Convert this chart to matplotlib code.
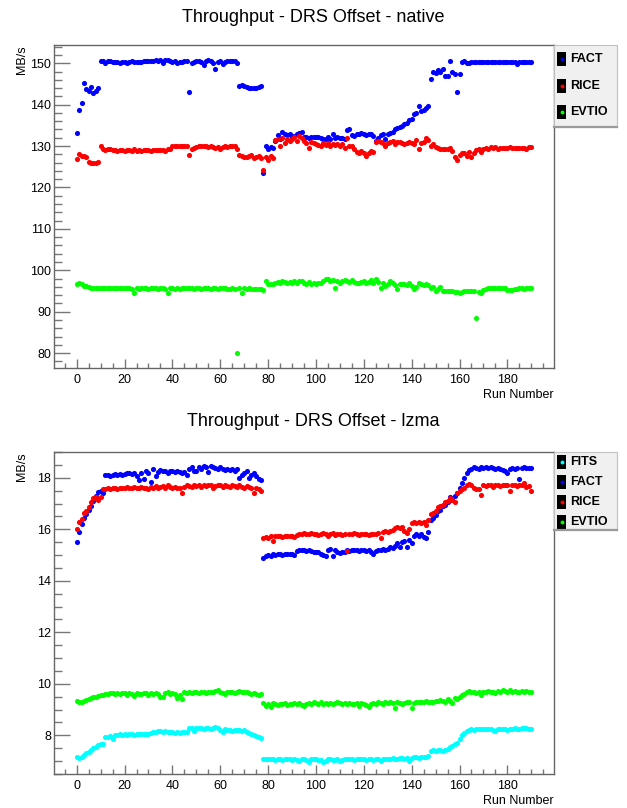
import matplotlib
matplotlib.use("Agg")
import matplotlib.pyplot as plt
from matplotlib.patches import Rectangle
from matplotlib.lines import Line2D
from matplotlib.ticker import MultipleLocator
import numpy as np

plt.rcParams['font.family'] = ['Liberation Sans', 'DejaVu Sans']

runs = np.arange(191)

# ---- native compression ----
nat_fact = [
    133.2, 138.7, 140.5, 145.2, 143.8, 143.2, 144.2, 142.8, 143.3, 143.9,
    150.6, 150.6, 150.0, 150.6, 150.5, 150.3, 150.4, 150.2, 150.0, 150.4,
    150.3, 150.1, 150.4, 150.5, 150.2, 150.4, 150.3, 150.4, 150.5, 150.5,
    150.6, 150.6, 150.6, 150.7, 150.5, 150.7, 150.1, 150.8, 150.7, 150.6,
    150.4, 150.5, 150.0, 150.3, 150.4, 150.6, 150.5, 143.1, 150.0, 150.4,
    150.6, 150.5, 150.3, 149.5, 150.5, 150.7, 150.6, 150.0, 148.5, 150.3,
    150.6, 149.9, 150.4, 150.6, 150.5, 150.6, 150.6, 150.1, 144.5, 144.8,
    144.5, 144.3, 144.1, 144.1, 144.1, 144.1, 144.2, 144.6, 123.5, 130.0,
    129.3, 129.8, 129.6, 131.3, 132.6, 131.8, 133.3, 132.8, 132.7, 132.8,
    132.1, 132.5, 132.9, 133.2, 133.3, 132.2, 132.3, 132.0, 132.2, 132.3,
    132.2, 132.3, 132.0, 131.8, 131.6, 132.1, 131.8, 132.9, 132.0, 132.3,
    132.0, 131.9, 131.8, 133.8, 134.0, 132.6, 132.5, 133.0, 132.8, 133.2,
    132.9, 132.7, 133.0, 132.8, 132.5, 131.3, 132.0, 132.6, 132.8, 131.8,
    133.0, 133.1, 133.3, 134.2, 134.4, 134.6, 134.8, 135.4, 135.6, 136.2,
    136.5, 137.8, 137.9, 139.6, 138.5, 138.7, 139.3, 139.7, 146.3, 148.0,
    147.6, 148.3, 147.8, 148.6, 147.0, 146.9, 150.6, 148.0, 147.5, 143.1,
    147.5, 150.3, 150.5, 150.0, 150.1, 150.2, 150.3, 150.2, 150.2, 150.3,
    150.2, 150.3, 150.2, 150.2, 150.3, 150.3, 150.2, 150.3, 150.4, 150.3,
    150.4, 150.2, 150.3, 150.4, 149.7, 150.2, 150.3, 150.2, 150.2, 150.3,
    150.4]

nat_rice = [
    126.8, 128.0, 127.6, 127.7, 127.3, 126.2, 125.9, 125.8, 125.8, 126.1,
    129.9, 129.3, 129.1, 129.2, 129.2, 129.1, 129.0, 128.9, 129.1, 129.0,
    128.8, 129.1, 129.0, 128.7, 129.2, 128.9, 129.0, 128.8, 129.0, 129.1,
    129.0, 128.9, 129.0, 129.1, 129.0, 129.0, 129.1, 128.8, 129.3, 129.2,
    130.0, 130.1, 130.0, 130.0, 130.0, 130.1, 129.9, 127.8, 129.4, 129.6,
    129.8, 130.0, 130.0, 130.0, 129.9, 129.8, 129.9, 129.7, 129.5, 129.8,
    129.4, 129.7, 129.9, 129.8, 129.9, 130.0, 129.9, 129.3, 127.9, 127.6,
    127.4, 127.3, 127.5, 127.8, 127.2, 127.4, 127.6, 127.1, 124.3, 127.4,
    126.6, 127.7, 127.2, 131.5, 131.6, 130.0, 132.0, 130.7, 131.6, 131.2,
    131.7, 132.2, 131.3, 132.4, 132.0, 131.2, 130.7, 129.5, 131.0, 130.7,
    130.5, 130.2, 130.0, 130.7, 130.2, 130.7, 130.0, 130.6, 130.3, 130.4,
    129.9, 130.6, 129.5, 131.9, 130.1, 130.0, 129.3, 128.6, 128.3, 128.8,
    128.2, 127.7, 128.3, 128.9, 128.6, 131.0, 131.1, 130.9, 130.8, 130.0,
    130.7, 131.0, 131.1, 130.6, 130.9, 131.0, 130.8, 130.4, 130.7, 131.0,
    130.7, 130.6, 131.5, 129.4, 130.8, 131.0, 131.9, 131.4, 130.1, 130.5,
    129.8, 129.6, 129.4, 129.3, 129.2, 129.4, 129.5, 128.9, 127.3, 126.7,
    127.8, 128.2, 128.4, 127.5, 128.6, 127.3, 128.2, 129.0, 129.2, 128.6,
    129.3, 129.5, 129.4, 129.7, 129.6, 129.8, 129.3, 129.5, 129.6, 129.6,
    129.6, 129.7, 129.6, 129.5, 129.6, 129.6, 129.5, 129.6, 129.4, 129.7,
    129.8]

nat_evtio = [
    96.8, 97.0, 96.6, 96.3, 96.1, 95.9, 95.8, 95.8, 95.7, 95.8,
    95.8, 95.8, 95.7, 95.8, 95.8, 95.7, 95.7, 95.8, 95.7, 95.7,
    95.7, 95.7, 95.6, 95.4, 94.5, 95.6, 95.4, 95.6, 95.6, 95.6,
    95.5, 95.6, 95.6, 95.6, 95.4, 95.6, 95.6, 95.5, 94.5, 95.6,
    95.6, 95.4, 95.6, 95.5, 95.6, 95.6, 95.6, 95.6, 95.6, 95.5,
    95.6, 95.6, 95.5, 95.6, 95.6, 95.6, 95.5, 95.6, 95.6, 95.5,
    95.6, 95.6, 95.6, 95.5, 95.4, 95.6, 95.5, 80.0, 95.6, 94.4,
    95.6, 95.5, 95.6, 95.5, 95.5, 95.5, 95.4, 95.4, 95.2, 97.3,
    96.6, 96.7, 96.6, 97.0, 97.2, 96.9, 97.4, 97.2, 96.9, 97.1,
    97.0, 97.3, 96.9, 97.5, 97.3, 97.0, 96.8, 97.1, 96.8, 97.0,
    96.8, 96.9, 97.0, 97.3, 97.8, 97.9, 97.3, 97.6, 95.6, 97.4,
    96.9, 97.3, 97.6, 97.3, 97.1, 97.6, 97.2, 97.0, 96.9, 97.1,
    97.5, 96.9, 97.2, 97.6, 97.0, 97.9, 97.1, 95.6, 97.0, 96.3,
    96.6, 97.4, 97.0, 96.5, 95.4, 96.7, 96.6, 96.8, 96.5, 97.0,
    96.2, 95.4, 95.9, 96.9, 96.6, 96.4, 96.6, 96.5, 95.8, 95.9,
    95.0, 95.4, 95.9, 95.1, 95.0, 94.9, 94.9, 95.0, 94.8, 94.8,
    94.6, 94.7, 94.9, 95.0, 94.9, 95.0, 95.1, 88.5, 94.7, 94.6,
    95.3, 95.5, 95.6, 95.7, 95.6, 95.6, 95.6, 95.7, 95.6, 95.6,
    95.3, 95.2, 95.3, 95.5, 95.5, 95.6, 95.7, 95.5, 95.7, 95.6,
    95.6]

# ---- lzma compression ----
lz_fits = [
    7.15, 7.12, 7.15, 7.22, 7.30, 7.36, 7.42, 7.50, 7.56, 7.62,
    7.65, 7.68, 7.93, 7.92, 7.97, 7.87, 8.00, 8.02, 8.04, 8.03,
    8.05, 8.03, 8.06, 8.04, 8.02, 8.06, 8.05, 8.04, 8.06, 8.07,
    8.05, 8.10, 8.12, 8.14, 8.15, 8.16, 8.14, 8.15, 8.13, 8.12,
    8.14, 8.10, 8.12, 8.11, 8.12, 8.13, 8.14, 8.28, 8.28, 8.15,
    8.27, 8.28, 8.30, 8.25, 8.30, 8.28, 8.23, 8.28, 8.32, 8.27,
    8.22, 8.12, 8.25, 8.20, 8.22, 8.18, 8.20, 8.22, 8.19, 8.16,
    8.20, 8.12, 8.08, 8.05, 8.03, 7.98, 7.93, 7.90, 7.10, 7.10,
    7.08, 7.10, 7.09, 7.06, 7.10, 7.09, 7.05, 7.08, 7.10, 7.07,
    7.05, 7.08, 7.06, 6.99, 7.08, 7.10, 7.05, 6.98, 7.07, 7.10,
    7.10, 7.06, 7.04, 6.98, 6.99, 7.08, 7.10, 7.06, 7.05, 7.08,
    6.99, 7.05, 7.08, 7.10, 7.07, 7.08, 7.06, 7.07, 7.08, 7.09,
    7.07, 7.06, 7.08, 7.07, 7.05, 7.07, 7.08, 6.99, 7.10, 7.09,
    7.10, 7.08, 7.11, 7.10, 7.09, 7.12, 7.11, 7.10, 7.11, 7.00,
    7.14, 7.15, 7.16, 7.14, 7.15, 7.15, 7.16, 7.18, 7.38, 7.42,
    7.40, 7.44, 7.45, 7.40, 7.45, 7.48, 7.55, 7.60, 7.65, 7.72,
    7.85, 8.00, 8.10, 8.18, 8.20, 8.24, 8.22, 8.25, 8.23, 8.26,
    8.24, 8.25, 8.26, 8.25, 8.22, 8.15, 8.24, 8.26, 8.24, 8.25,
    8.22, 8.26, 8.25, 8.27, 8.26, 8.25, 8.28, 8.30, 8.27, 8.25,
    8.25]

lz_fact = [
    15.50, 15.90, 16.20, 16.45, 16.60, 16.75, 16.90, 17.10, 17.30, 17.45,
    17.50, 17.40, 18.10, 18.10, 18.05, 18.10, 18.15, 18.12, 18.15, 18.12,
    18.15, 18.18, 18.20, 18.15, 18.20, 18.05, 17.90, 18.20, 17.95, 18.25,
    18.20, 17.85, 18.35, 18.05, 18.22, 18.30, 18.25, 18.28, 18.20, 18.25,
    18.28, 18.22, 18.25, 18.22, 18.20, 18.22, 18.10, 18.35, 18.40, 18.25,
    18.25, 18.40, 18.35, 18.45, 18.40, 18.22, 18.45, 18.40, 18.38, 18.35,
    18.40, 18.35, 18.30, 18.35, 18.30, 18.35, 18.25, 18.35, 18.00, 18.10,
    18.20, 18.25, 18.00, 18.10, 18.20, 18.05, 17.95, 17.90, 14.90, 14.95,
    15.00, 14.95, 15.05, 15.00, 15.05, 15.05, 15.02, 15.05, 15.03, 15.05,
    15.05, 15.02, 15.15, 15.18, 15.20, 15.18, 15.15, 15.20, 15.15, 15.10,
    15.12, 15.10, 15.05, 15.00, 14.95, 15.20, 15.25, 14.95, 15.20, 15.10,
    15.08, 15.10, 15.12, 15.18, 15.15, 15.20, 15.18, 15.20, 15.15, 15.18,
    15.20, 15.15, 15.18, 15.10, 15.05, 15.15, 15.20, 15.18, 15.25, 15.20,
    15.25, 15.30, 15.28, 15.35, 15.45, 15.30, 15.50, 15.55, 15.30, 15.60,
    15.45, 15.75, 15.80, 15.75, 15.80, 15.70, 15.65, 15.90, 16.35, 16.45,
    16.55, 16.70, 16.75, 16.90, 16.95, 17.05, 17.25, 17.15, 17.30, 17.40,
    17.60, 17.80, 18.00, 18.20, 18.30, 18.35, 18.40, 18.38, 18.35, 18.40,
    18.38, 18.40, 18.38, 18.40, 18.38, 18.35, 18.38, 18.35, 18.30, 18.25,
    18.20, 18.35, 18.38, 18.35, 18.38, 17.95, 18.38, 18.40, 18.38, 18.38,
    18.38]

lz_rice = [
    16.00, 16.30, 16.40, 16.65, 16.70, 16.85, 17.05, 17.20, 17.25, 17.15,
    17.25, 17.55, 17.55, 17.60, 17.58, 17.60, 17.62, 17.58, 17.60, 17.62,
    17.60, 17.65, 17.62, 17.60, 17.65, 17.62, 17.60, 17.65, 17.62, 17.60,
    17.58, 17.65, 17.62, 17.68, 17.62, 17.65, 17.68, 17.62, 17.70, 17.65,
    17.62, 17.65, 17.62, 17.60, 17.40, 17.65, 17.70, 17.68, 17.65, 17.70,
    17.68, 17.70, 17.65, 17.70, 17.68, 17.72, 17.70, 17.62, 17.68, 17.70,
    17.70, 17.65, 17.70, 17.68, 17.65, 17.70, 17.68, 17.65, 17.70, 17.65,
    17.62, 17.68, 17.65, 17.60, 17.40, 17.62, 17.55, 17.50, 15.65, 15.70,
    15.68, 15.72, 15.55, 15.75, 15.72, 15.75, 15.70, 15.75, 15.72, 15.75,
    15.72, 15.70, 15.78, 15.82, 15.80, 15.85, 15.82, 15.80, 15.85, 15.82,
    15.80, 15.78, 15.82, 15.85, 15.80, 15.75, 15.82, 15.85, 15.78, 15.82,
    15.80, 15.78, 15.80, 15.15, 15.82, 15.80, 15.85, 15.80, 15.78, 15.82,
    15.80, 15.82, 15.78, 15.82, 15.80, 15.82, 15.85, 15.65, 15.90, 15.92,
    15.90, 15.95, 15.98, 16.05, 16.10, 16.05, 16.10, 15.95, 15.85, 16.00,
    16.25, 16.28, 16.25, 16.28, 16.25, 16.28, 16.15, 16.35, 16.60, 16.65,
    16.70, 16.85, 16.90, 16.95, 17.05, 17.10, 17.20, 17.15, 17.05, 17.40,
    17.50, 17.55, 17.62, 17.70, 17.75, 17.72, 17.60, 17.58, 17.55, 17.35,
    17.70, 17.68, 17.72, 17.70, 17.65, 17.70, 17.72, 17.68, 17.70, 17.72,
    17.70, 17.50, 17.70, 17.72, 17.68, 17.70, 17.72, 17.78, 17.65, 17.68,
    17.50]

lz_evtio = [
    9.32, 9.30, 9.30, 9.35, 9.38, 9.40, 9.44, 9.47, 9.50, 9.52,
    9.55, 9.58, 9.62, 9.62, 9.65, 9.63, 9.60, 9.65, 9.62, 9.64,
    9.65, 9.55, 9.65, 9.60, 9.52, 9.65, 9.62, 9.60, 9.65, 9.65,
    9.55, 9.65, 9.62, 9.65, 9.62, 9.50, 9.50, 9.65, 9.68, 9.62,
    9.65, 9.62, 9.45, 9.55, 9.40, 9.70, 9.65, 9.68, 9.65, 9.70,
    9.68, 9.65, 9.70, 9.68, 9.65, 9.70, 9.68, 9.70, 9.72, 9.75,
    9.70, 9.65, 9.60, 9.68, 9.70, 9.68, 9.65, 9.70, 9.72, 9.68,
    9.70, 9.68, 9.65, 9.62, 9.65, 9.62, 9.58, 9.60, 9.25, 9.15,
    9.20, 9.10, 9.25, 9.20, 9.18, 9.22, 9.20, 9.25, 9.18, 9.22,
    9.20, 9.25, 9.22, 9.25, 9.18, 9.15, 9.20, 9.25, 9.22, 9.28,
    9.25, 9.22, 9.28, 9.20, 9.25, 9.22, 9.25, 9.20, 9.25, 9.28,
    9.25, 9.22, 9.25, 9.22, 9.25, 9.20, 9.22, 9.25, 9.15, 9.25,
    9.20, 9.18, 9.12, 9.20, 9.25, 9.22, 9.28, 9.25, 9.22, 9.28,
    9.25, 9.28, 9.25, 9.05, 9.28, 9.25, 9.22, 9.25, 9.28, 9.30,
    9.05, 9.25, 9.30, 9.28, 9.30, 9.28, 9.32, 9.30, 9.28, 9.30,
    9.32, 9.35, 9.38, 9.35, 9.30, 9.40, 9.35, 9.25, 9.45, 9.40,
    9.50, 9.55, 9.60, 9.70, 9.72, 9.70, 9.68, 9.65, 9.70, 9.55,
    9.68, 9.70, 9.72, 9.68, 9.70, 9.65, 9.72, 9.70, 9.75, 9.72,
    9.70, 9.75, 9.70, 9.72, 9.68, 9.70, 9.72, 9.68, 9.72, 9.70,
    9.68]

native_series = [("FACT", nat_fact, "#0000ff"),
                 ("RICE", nat_rice, "#ff0000"),
                 ("EVTIO", nat_evtio, "#00ff00")]
lzma_series = [("FITS", lz_fits, "#00ffff"),
               ("FACT", lz_fact, "#0000ff"),
               ("RICE", lz_rice, "#ff0000"),
               ("EVTIO", lz_evtio, "#00ff00")]

W, H = 627, 808
fig = plt.figure(figsize=(W / 100, H / 100), dpi=100)


def px_axes(left, top, right, bottom):
    return fig.add_axes([left / W, 1 - bottom / H, (right - left) / W, (bottom - top) / H])


def style_axes(ax, ylim, ymajor, yminor):
    ax.set_xlim(-9.5, 199.5)
    ax.set_ylim(*ylim)
    ax.xaxis.set_major_locator(MultipleLocator(20))
    ax.xaxis.set_minor_locator(MultipleLocator(5))
    ax.yaxis.set_major_locator(MultipleLocator(ymajor))
    ax.yaxis.set_minor_locator(MultipleLocator(yminor))
    for s in ax.spines.values():
        s.set_color("#666666")
        s.set_linewidth(1.0)
    ax.tick_params(axis="y", which="major", direction="in", length=11.5, width=1,
                   color="#777777", labelsize=9, pad=2)
    ax.tick_params(axis="y", which="minor", direction="in", length=5.8, width=1,
                   color="#777777")
    ax.tick_params(axis="x", which="major", direction="in", length=6.5, width=1,
                   color="#777777", labelsize=9, pad=4)
    ax.tick_params(axis="x", which="minor", direction="in", length=3.6, width=1,
                   color="#777777")
    ax.text(1.0, -0.085, "Run Number", transform=ax.transAxes, ha="right",
            va="center", fontsize=9)
    ax.text(-0.064, 1.0, "MB/s", transform=ax.transAxes, ha="center",
            va="top", rotation=90, fontsize=9)


def draw_legend(top, bottom, names_colors, ys):
    fig.patches.append(Rectangle((554 / W, 1 - bottom / H), 63 / W, (bottom - top) / H,
                                 transform=fig.transFigure, facecolor="#f0f0f0",
                                 edgecolor="#c0c0c0", linewidth=0.8, zorder=0))
    fig.lines.append(Line2D([554 / W, 617 / W], [1 - bottom / H, 1 - bottom / H],
                            transform=fig.transFigure, color="#9a9a9a", linewidth=1.6))
    for (name, color), y in zip(names_colors, ys):
        fig.patches.append(Rectangle((557 / W, 1 - (y + 7) / H), 9 / W, 14 / H,
                                     transform=fig.transFigure, facecolor="black",
                                     edgecolor="none"))
        fig.lines.append(Line2D([561.5 / W], [1 - y / H], transform=fig.transFigure,
                                marker="o", color=color, markersize=2.8, mew=0))
        fig.text(570 / W, 1 - y / H, name, ha="left", va="center", fontsize=9,
                 fontweight="bold")


# top panel: native
ax1 = px_axes(54, 45, 554, 368)
for name, vals, color in native_series:
    ax1.plot(runs, vals, ls="none", marker="o", ms=3.7, mew=0, color=color)
style_axes(ax1, (76.4, 154.4), 10, 2)
fig.text(313 / W, 1 - 18 / H, "Throughput - DRS Offset - native", ha="center",
         va="center", fontsize=13)
draw_legend(45, 127, [(n, c) for n, _, c in native_series], [59, 86, 112])

# bottom panel: lzma
ax2 = px_axes(54, 452, 554, 774)
for name, vals, color in lzma_series:
    ax2.plot(runs, vals, ls="none", marker="o", ms=3.7, mew=0, color=color)
style_axes(ax2, (6.5, 19.0), 2, 0.5)
fig.text(313 / W, 1 - 421 / H, "Throughput - DRS Offset - lzma", ha="center",
         va="center", fontsize=13)
draw_legend(452, 530, [(n, c) for n, _, c in lzma_series], [462, 482, 502, 522])

fig.savefig("out.png", dpi=100)
